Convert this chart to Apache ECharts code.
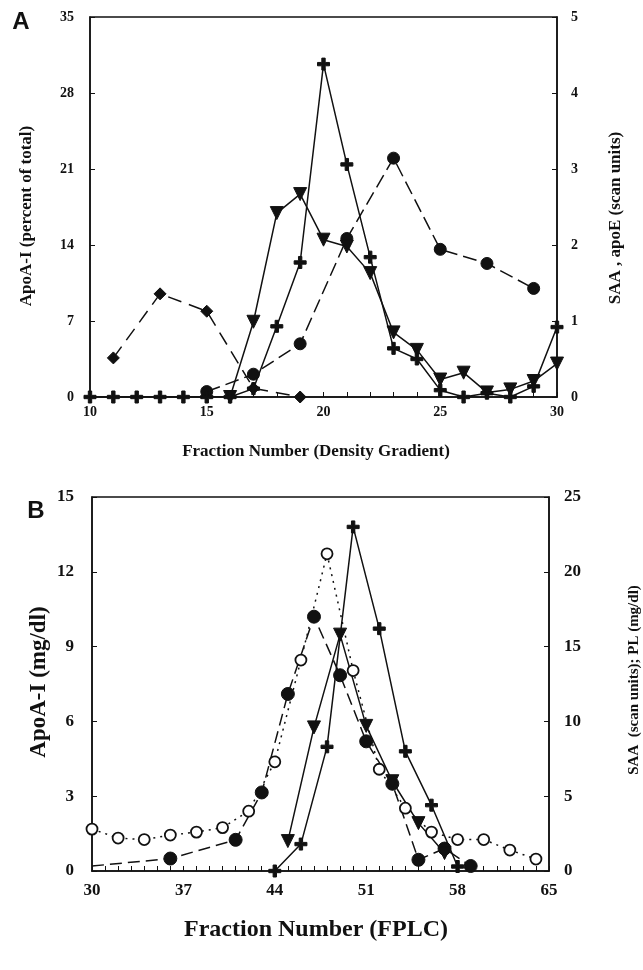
<!DOCTYPE html>
<html>
<head>
<meta charset="utf-8">
<script src="https://cdn.jsdelivr.net/npm/echarts@6/dist/echarts.min.js"></script>
<style>
  html, body { margin: 0; padding: 0; background: #fff; }
  #main { width: 643px; height: 970px; }
</style>
</head>
<body>
<div id="main"></div>
<script>
// panel A - density gradient
var plusAX = [10, 11, 12, 13, 14, 15, 16, 17, 18, 19, 20, 21, 22, 23, 24, 25, 26, 27, 28, 29, 30];
var plusAY = [0, 0, 0, 0, 0, 0, 0, 0.11, 0.93, 1.77, 4.38, 3.06, 1.84, 0.64, 0.50, 0.09, 0, 0.05, 0, 0.14, 0.92];
var triAX = [16, 17, 18, 19, 20, 21, 22, 23, 24, 25, 26, 27, 28, 29, 30];
var triAY = [0, 0.99, 2.42, 2.67, 2.07, 1.98, 1.63, 0.85, 0.62, 0.23, 0.32, 0.06, 0.1, 0.21, 0.44];
var circAX = [15, 17, 19, 21, 23, 25, 27, 29];
var circAY = [0.5, 2.1, 4.9, 14.6, 22.0, 13.6, 12.3, 10.0];
var diaAX = [11, 13, 15, 17, 19];
var diaAY = [3.6, 9.5, 7.9, 0.8, 0];

// panel B - FPLC
var plBX = [30, 32, 34, 36, 38, 40, 42, 44, 46, 48, 50, 52, 54, 56, 58, 60, 62, 64];
var plBY = [2.8, 2.2, 2.1, 2.4, 2.6, 2.9, 4.0, 7.3, 14.1, 21.2, 13.4, 6.8, 4.2, 2.6, 2.1, 2.1, 1.4, 0.8];
var apoBX = [30, 36, 41, 43, 45, 47, 49, 51, 53, 55, 57, 59];
var apoBY = [0.2, 0.5, 1.25, 3.15, 7.1, 10.2, 7.85, 5.2, 3.5, 0.45, 0.9, 0.2];
var triBX = [45, 47, 49, 51, 53, 55, 57];
var triBY = [2.0, 9.6, 15.8, 9.7, 6.0, 3.2, 1.2];
var plusBX = [44, 46, 48, 50, 52, 54, 56, 58];
var plusBY = [0, 1.8, 8.3, 23, 16.2, 8.0, 4.4, 0.3];

var xLabelsB = [30, 37, 44, 51, 58, 65];

var ink = '#111';
var serif = 'Liberation Serif';
var plusSym = 'path://M3.6,0H6.4V3.6H10V6.4H6.4V10H3.6V6.4H0V3.6H3.6Z';

function pairs(xs, ys) {
    return xs.map(function (x, i) { return [x, ys[i]]; });
}
function range(a, b) {
    var r = [];
    for (var i = a; i <= b; i++) r.push(i);
    return r;
}

var tickLbl = function (size) {
    return { color: ink, fontFamily: serif, fontWeight: 'bold', fontSize: size };
};

function xAxisCfg(grid, min, max, labelVals, size, margin) {
    return {
        type: 'value', gridIndex: grid, min: min, max: max,
        axisLine: { show: true, lineStyle: { color: ink, width: 1.5 } },
        axisTick: { show: true, inside: true, length: 5, customValues: range(min, max), lineStyle: { color: ink, width: 1 } },
        axisLabel: Object.assign({ customValues: labelVals, margin: margin }, tickLbl(size)),
        splitLine: { show: false }
    };
}
function yAxisCfg(grid, pos, max, interval, size, margin) {
    return {
        type: 'value', gridIndex: grid, position: pos, min: 0, max: max, interval: interval,
        axisLine: { show: true, lineStyle: { color: ink, width: 1.5 } },
        axisTick: { show: true, inside: true, length: 5, lineStyle: { color: ink, width: 1 } },
        axisLabel: Object.assign({ margin: margin }, tickLbl(size)),
        splitLine: { show: false }
    };
}

function line(name, x, y, xi, yi, symbol, size, type, extra) {
    var s = {
        name: name, type: 'line', xAxisIndex: xi, yAxisIndex: yi,
        data: pairs(x, y),
        symbol: symbol, symbolSize: size,
        itemStyle: { color: ink, borderColor: ink },
        lineStyle: { color: ink, width: 1.5, type: type },
        z: 3
    };
    return Object.assign(s, extra || {});
}

var apoBData = pairs(apoBX, apoBY);
apoBData[0] = { value: apoBData[0], symbol: 'none' };

function vtext(x, y, text, size) {
    return {
        type: 'text', x: x, y: y, rotation: Math.PI / 2,
        style: { text: text, fill: ink, fontFamily: serif, fontWeight: 'bold', fontSize: size, align: 'center', verticalAlign: 'middle' }
    };
}
function htext(x, y, text, size, extra) {
    return {
        type: 'text', x: x, y: y,
        style: Object.assign({ text: text, fill: ink, fontFamily: serif, fontWeight: 'bold', fontSize: size, align: 'center', verticalAlign: 'middle' }, extra || {})
    };
}

var option = {
    animation: false,
    backgroundColor: '#fff',
    grid: [
        { left: 90, top: 17, right: 86, bottom: 573, show: true, borderColor: ink, borderWidth: 1.5 },
        { left: 92, top: 497, right: 94, bottom: 99, show: true, borderColor: ink, borderWidth: 1.5 }
    ],
    xAxis: [
        xAxisCfg(0, 10, 30, [10, 15, 20, 25, 30], 14, 8),
        xAxisCfg(1, 30, 65, xLabelsB, 17, 11)
    ],
    yAxis: [
        yAxisCfg(0, 'left', 35, 7, 14, 16),
        yAxisCfg(0, 'right', 5, 1, 14, 14),
        yAxisCfg(1, 'left', 15, 3, 17, 18),
        yAxisCfg(1, 'right', 25, 5, 17, 15)
    ],
    graphic: [
        htext(21, 22, 'A', 24, { fontFamily: 'Liberation Sans' }),
        htext(36, 511, 'B', 24, { fontFamily: 'Liberation Sans' }),
        vtext(27, 216, 'ApoA-I (percent of total)', 17),
        vtext(616, 218, 'SAA , apoE (scan units)', 17),
        htext(316, 452, 'Fraction Number (Density Gradient)', 17),
        vtext(39, 682, 'ApoA-I (mg/dl)', 23),
        vtext(634, 680, 'SAA  (scan units); PL (mg/dl)', 15),
        htext(316, 930, 'Fraction Number (FPLC)', 24, { letterSpacing: 1.5 })
    ],
    series: [
        line('diamond A', diaAX, diaAY, 0, 0, 'diamond', 12, [14, 8]),
        line('circle A', circAX, circAY, 0, 0, 'circle', 12, [14, 6]),
        line('triangle A', triAX, triAY, 0, 1, 'triangle', 13, 'solid', { symbolRotate: 180 }),
        line('plus A', plusAX, plusAY, 0, 1, plusSym, 12, 'solid'),

        line('PL B', plBX, plBY, 1, 3, 'circle', 11, [2, 5], {
            itemStyle: { color: '#fff', borderColor: ink, borderWidth: 1.8 }
        }),
        Object.assign(line('apoA-I B', apoBX, apoBY, 1, 2, 'circle', 13, [12, 6]), { data: apoBData }),
        line('triangle B', triBX, triBY, 1, 3, 'triangle', 13, 'solid', { symbolRotate: 180 }),
        line('plus B', plusBX, plusBY, 1, 3, plusSym, 12, 'solid')
    ]
};

var chart = echarts.init(document.getElementById('main'));
chart.setOption(option);
</script>
</body>
</html>
